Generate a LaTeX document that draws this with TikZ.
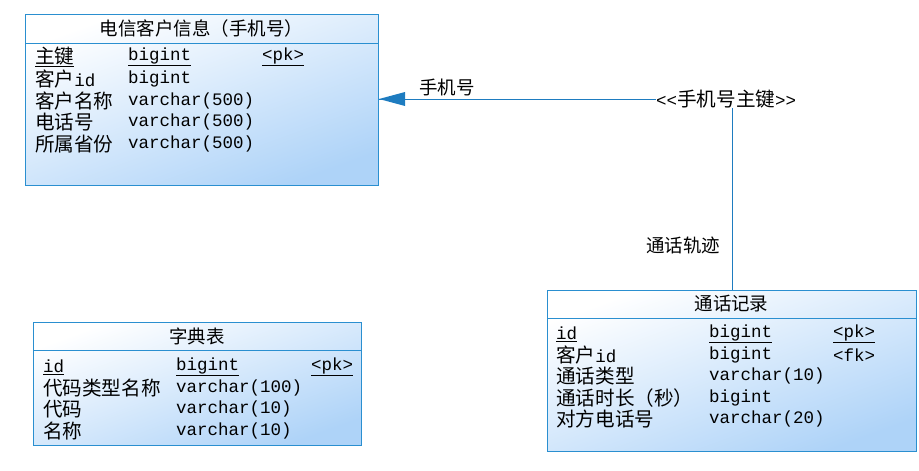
\documentclass[tikz,border=0pt]{standalone}
\usepackage{fontspec}
\setmainfont[Ligatures=NoCommon]{Liberation Mono}
\newfontfamily\cjk[Scale=1.12]{Noto Sans CJK SC}
\usetikzlibrary{arrows.meta}
\definecolor{bd}{HTML}{2A8FD0}
\definecolor{lb}{HTML}{AED3F8}
\definecolor{ln}{HTML}{1E7CC0}
\tikzset{
 tbl/.style={draw=bd,line width=1pt,shade,shading=axis,top color=white,bottom color=lb,shading angle=20},
 cell/.style={anchor=west,inner sep=0pt,font=\fontsize{17.5}{18}\selectfont},
 ttl/.style={inner sep=0pt,font=\cjk\fontsize{16.5}{18}\selectfont},
 lbl/.style={inner sep=0pt,font=\fontsize{17.5}{18}\selectfont},
}
\newcommand{\zh}[1]{{\cjk #1}}
\begin{document}
\begin{tikzpicture}[x=1pt,y=-1pt]
\useasboundingbox (0,0) rectangle (919,471);
% table 1
\path[tbl] (25,14) rectangle (378,185);
\draw[bd,line width=1pt] (25,43) -- (378,43);
\node[ttl] (t1) at (201.5,28) {电信客户信息（手机号）};
\node[cell] (a1) at (35,57) {\underline{\zh{主键}}};
\node[cell] at (128,57) {\underline{bigint}};
\node[cell] at (262,57) {\underline{<pk>}};
\node[cell] at (35,79) {\zh{客户}id};
\node[cell] at (128,79) {bigint};
\node[cell] at (35,101) {\zh{客户名称}};
\node[cell] at (128,101) {varchar(500)};
\node[cell] at (35,122) {\zh{电话号}};
\node[cell] at (128,122) {varchar(500)};
\node[cell] at (35,144) {\zh{所属省份}};
\node[cell] at (128,144) {varchar(500)};
\coordinate (e1) at (379,99);
% table 2
\path[tbl] (547,290) rectangle (916,451);
\draw[bd,line width=1pt] (547,318) -- (916,318);
\node[ttl] (t2) at (731.5,304) {通话记录};
\node[cell] at (556,334) {\underline{id}};
\node[cell] at (709,334) {\underline{bigint}};
\node[cell] at (833,334) {\underline{<pk>}};
\node[cell] at (556,355) {\zh{客户}id};
\node[cell] at (709,355) {bigint};
\node[cell] at (833,355) {<fk>};
\node[cell] at (556,376) {\zh{通话类型}};
\node[cell] at (709,376) {varchar(10)};
\node[cell] at (556,398) {\zh{通话时长（秒）}};
\node[cell] at (709,398) {bigint};
\node[cell] at (556,419) {\zh{对方电话号}};
\node[cell] at (709,419) {varchar(20)};
\coordinate (e2) at (732,290);
% table 3
\path[tbl] (33,322) rectangle (361,445);
\draw[bd,line width=1pt] (33,350) -- (361,350);
\node[ttl] (t3) at (197,336) {字典表};
\node[cell] at (43,367) {\underline{id}};
\node[cell] at (176,367) {\underline{bigint}};
\node[cell] at (311,367) {\underline{<pk>}};
\node[cell] at (43,388) {\zh{代码类型名称}};
\node[cell] at (176,388) {varchar(100)};
\node[cell] at (43,409) {\zh{代码}};
\node[cell] at (176,409) {varchar(10)};
\node[cell] at (43,431) {\zh{名称}};
\node[cell] at (176,431) {varchar(10)};
% reference
\node[lbl,anchor=west] (ref) at (656,99) {{<}{<}\zh{手机号主键}{>}{>}};
\draw[ln,line width=1pt] (ref.west) -- (e1);
\fill[ln] (e1) -- (405,92) -- (405,106) -- cycle;
\draw[ln,line width=1pt] (ref.south -| e2) -- (e2);
\node[ttl] (l1) at (447,87) {手机号};
\node[ttl] (l2) at (683,245) {通话轨迹};
\end{tikzpicture}
\end{document}
